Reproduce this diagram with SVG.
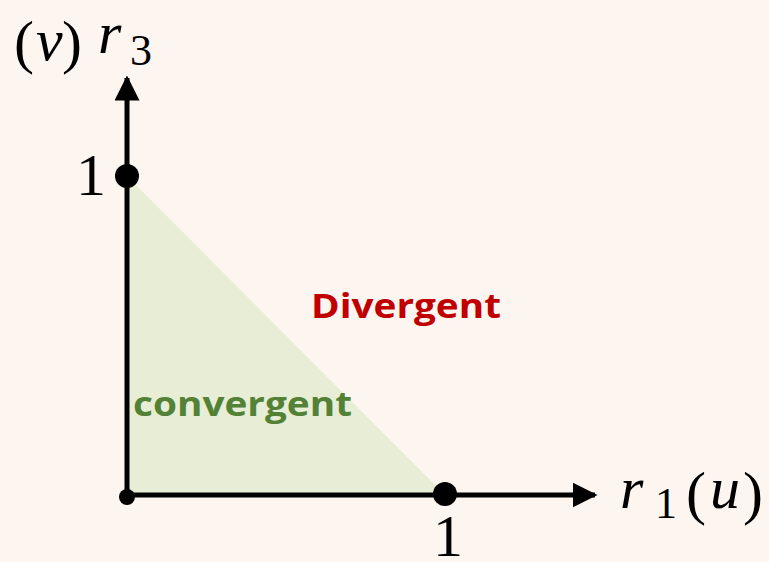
<svg xmlns="http://www.w3.org/2000/svg" width="769" height="562" viewBox="0 0 769 562">
<style>
.math{font-family:"Liberation Serif","DejaVu Serif",serif;fill:#000;font-size:60px}
.it{font-style:italic}
.sub{font-size:44px}
.axis{stroke:#000;stroke-width:5;fill:none}
.lbl{font-family:"Open Sans","Noto Sans",sans-serif;font-weight:bold;font-size:34px}
</style>
<defs>
<marker id="arr" viewBox="0 0 10 10" refX="9" refY="5" markerWidth="5" markerHeight="5" markerUnits="strokeWidth" orient="auto">
<path d="M0,0 L10,5 L0,10 z" fill="#000"/>
</marker>
</defs>
<rect width="769" height="562" fill="#FDF5F0"/>
<g id="region">
<polygon points="127,176 127,495 445,495" fill="#E8EED5"/>
</g>
<g id="connectors">
<line class="axis" x1="127" y1="497" x2="127" y2="78" marker-end="url(#arr)"/>
<line class="axis" x1="125" y1="495" x2="595" y2="495" marker-end="url(#arr)"/>
</g>
<g id="points">
<circle cx="127" cy="176" r="12" fill="#000"/>
<circle cx="445" cy="494" r="12" fill="#000"/>
<circle cx="127" cy="497" r="8" fill="#000"/>
</g>
<g id="label-r3">
<text class="math" x="14" y="62">(</text>
<text class="math it" x="36" y="60">v</text>
<text class="math" x="62" y="62">)</text>
<text class="math it" x="98" y="53">r</text>
<text class="math sub" x="130" y="65">3</text>
</g>
<g id="label-r1">
<text class="math it" x="620" y="508">r</text>
<text class="math sub" x="655" y="518">1</text>
<text class="math" x="686" y="513">(</text>
<text class="math it" x="710" y="508">u</text>
<text class="math" x="743" y="513">)</text>
</g>
<g id="ticks">
<text class="math" x="76" y="195">1</text>
<text class="math" x="433" y="556">1</text>
</g>
<g id="labels">
<text class="lbl" x="311" y="318" fill="#C00000" textLength="190" lengthAdjust="spacingAndGlyphs">Divergent</text>
<text class="lbl" x="133" y="416" fill="#538135" textLength="219" lengthAdjust="spacingAndGlyphs">convergent</text>
</g>
</svg>
